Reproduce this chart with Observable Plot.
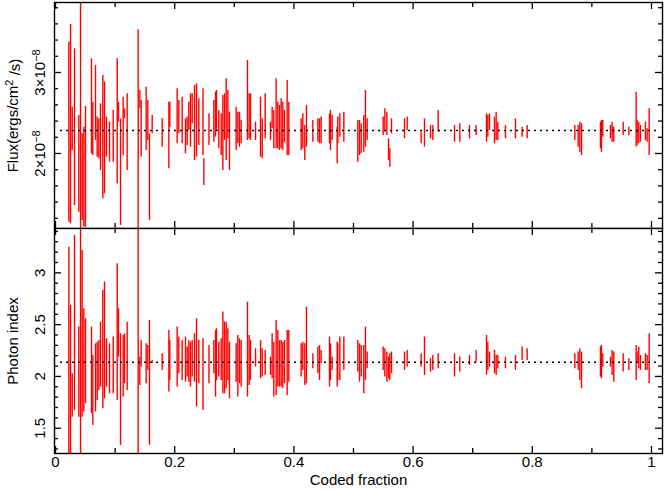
<!DOCTYPE html>
<html><head><meta charset="utf-8">
<script src="https://cdn.jsdelivr.net/npm/d3@7"></script>
<script src="https://cdn.jsdelivr.net/npm/@observablehq/plot@0.6"></script>
<style>
body{margin:0;background:#fff;}
#wrap{position:relative;width:665px;height:491px;}
#wrap svg{position:absolute;left:0;}
</style></head><body><div id="wrap"></div>
<script>
const codedFraction = [
0.0224,0.0252,0.0280,0.0319,0.0391,0.0420,0.0447,0.0475,0.0503,0.0604,
0.0626,0.0671,0.0699,0.0727,0.0755,0.0794,0.0822,0.0856,0.0906,0.0968,
0.1035,0.1057,0.1091,0.1135,0.1158,0.1202,0.1387,0.1415,0.1437,0.1521,
0.1549,0.1577,0.1622,0.1790,0.1902,0.1918,0.2041,0.2069,0.2125,0.2181,
0.2209,0.2237,0.2265,0.2293,0.2332,0.2366,0.2405,0.2475,0.2575,0.2657,
0.2685,0.2701,0.2740,0.2780,0.2808,0.2836,0.2864,0.2892,0.2919,0.3031,
0.3059,0.3087,0.3115,0.3221,0.3249,0.3272,0.3356,0.3440,0.3468,0.3518,
0.3607,0.3635,0.3663,0.3702,0.3730,0.3758,0.3786,0.3814,0.3842,0.3887,
0.3915,0.4122,0.4150,0.4183,0.4211,0.4318,0.4402,0.4430,0.4457,0.4597,
0.4614,0.4642,0.4726,0.4737,0.4771,0.4838,0.5073,0.5101,0.5129,0.5173,
0.5201,0.5229,0.5498,0.5526,0.5560,0.5588,0.5610,0.5638,0.5856,0.5901,
0.6135,0.6191,0.6292,0.6331,0.6421,0.6695,0.6784,0.6946,0.7058,0.7232,
0.7254,0.7282,0.7366,0.7394,0.7422,0.7550,0.7718,0.7830,0.7914,0.8714,
0.8770,0.8798,0.8826,0.9144,0.9161,0.9183,0.9312,0.9340,0.9368,0.9525,
0.9620,0.9743,0.9759,0.9787,0.9815,0.9899,0.9927,0.9961];
// Flux in units of 1e-8 ergs/cm^2/s (error bar low / high)
const fluxLo = [
1.152,1.132,2.037,1.358,1.276,0.9,1.173,1.09,1.09,1.996,
1.975,2.16,1.955,1.934,1.79,1.44,1.502,1.955,1.893,1.893,
1.626,2.387,1.111,1.975,2.428,1.79,0.9,2.551,1.955,2.037,
2.16,1.173,2.243,2.078,1.811,2.325,2.119,2.243,2.119,1.996,
2.099,2.284,2.078,2.366,1.914,1.955,2.099,1.975,2.099,2.140,
2.202,2.284,2.058,1.975,1.790,2.160,1.914,2.181,1.790,2.037,
2.119,2.078,2.119,2.160,2.181,2.160,2.160,1.955,1.934,2.181,
2.160,2.305,2.058,2.058,2.058,2.037,2.058,2.037,2.140,1.975,
1.975,2.037,2.058,1.914,2.078,2.140,2.140,2.119,2.119,2.119,
2.037,2.160,1.872,2.119,2.202,2.140,1.893,1.975,1.996,2.016,
2.078,2.160,2.222,2.263,2.222,1.914,1.831,2.243,2.181,2.284,
2.119,2.078,2.181,2.160,2.263,2.140,2.140,2.181,2.222,2.140,
2.202,2.284,2.119,2.160,2.160,2.181,2.181,2.202,2.181,2.160,
2.078,2.016,1.975,2.058,2.016,2.202,2.181,2.140,2.140,2.222,
2.222,2.078,2.099,2.119,2.140,2.160,2.140,1.975];
const fluxHi = [
3.374,3.593,2.572,3.292,2.469,4.0,2.243,2.325,2.58,3.169,
2.634,3.086,2.449,2.428,2.613,2.963,2.881,2.449,2.387,2.531,
3.169,2.634,2.428,2.695,2.551,2.737,3.527,2.778,2.654,2.819,
2.654,2.243,2.469,2.428,2.634,2.634,2.798,2.654,2.695,2.428,
2.449,2.634,2.737,2.737,2.840,2.860,2.675,2.798,2.490,2.654,
2.757,2.778,2.531,2.490,2.716,2.737,2.922,2.778,2.510,2.572,
2.510,2.510,2.407,3.148,2.737,2.737,2.387,2.695,2.428,2.737,
2.387,2.572,2.531,2.922,2.634,2.593,2.675,2.634,2.531,2.901,
2.634,2.428,2.490,2.346,2.593,2.407,2.428,2.428,2.449,2.490,
2.531,2.469,2.325,2.449,2.490,2.510,2.407,2.407,2.366,2.469,
2.778,2.428,2.449,2.551,2.510,2.181,2.058,2.428,2.428,2.449,
2.263,2.428,2.346,2.346,2.531,2.346,2.366,2.346,2.346,2.490,
2.469,2.490,2.449,2.510,2.387,2.346,2.428,2.325,2.346,2.346,
2.346,2.387,2.366,2.387,2.407,2.407,2.346,2.387,2.325,2.387,
2.325,2.757,2.407,2.387,2.346,2.387,2.305,2.551];
const fluxExtraX = [0.2489];
const fluxExtraLo = [1.605];
const fluxExtraHi = [1.934];
const indexLo = [
1.0,1.0,1.607,1.672,1.607,1.0,1.607,1.656,1.736,1.640,
1.527,1.656,1.768,1.865,1.897,1.688,1.784,1.897,1.833,1.833,
1.768,2.187,1.334,1.801,1.929,1.865,1.0,1.913,2.090,1.929,
2.058,1.334,2.122,2.058,1.849,1.961,1.897,2.026,1.961,1.945,
1.994,1.945,1.897,1.994,1.945,1.704,1.929,1.672,1.929,2.026,
1.801,1.961,1.994,1.961,1.833,1.833,1.881,1.961,1.784,1.945,
1.801,1.929,1.897,1.801,1.913,1.961,2.090,1.977,1.994,2.010,
2.010,1.977,1.801,1.817,1.897,1.897,1.897,1.881,1.929,1.817,
1.945,1.994,2.058,1.913,1.929,2.074,2.026,1.961,2.122,1.897,
1.961,2.058,1.897,1.961,1.961,2.058,2.042,1.945,1.994,1.833,
1.961,2.074,2.058,1.994,1.945,1.977,1.961,2.026,2.058,2.090,
2.090,2.010,2.042,2.058,2.074,1.994,2.042,2.106,2.138,2.010,
2.058,2.090,2.026,2.010,2.074,2.074,2.058,2.154,2.154,2.074,
2.058,1.961,1.881,1.994,1.977,2.090,2.090,2.010,1.945,2.042,
2.058,1.961,2.138,2.074,2.058,2.058,2.058,1.929];
const indexHi = [
3.248,2.685,2.026,3.361,2.476,3.6,3.216,2.653,2.557,2.476,
2.203,2.315,2.331,2.347,2.524,2.830,2.911,2.364,2.315,2.380,
3.088,2.653,2.412,2.396,2.412,2.524,3.6,2.187,2.347,2.315,
2.299,2.541,2.154,2.219,2.444,2.347,2.476,2.380,2.347,2.380,
2.283,2.347,2.331,2.347,2.412,2.557,2.347,2.364,2.299,2.347,
2.444,2.460,2.331,2.364,2.621,2.524,2.524,2.460,2.331,2.315,
2.396,2.364,2.347,2.717,2.396,2.347,2.267,2.347,2.267,2.251,
2.187,2.412,2.331,2.541,2.444,2.347,2.347,2.331,2.347,2.444,
2.444,2.315,2.331,2.315,2.669,2.219,2.283,2.299,2.251,2.380,
2.315,2.187,2.331,2.315,2.380,2.380,2.347,2.315,2.299,2.299,
2.476,2.235,2.283,2.267,2.235,2.187,2.219,2.235,2.235,2.251,
2.219,2.380,2.171,2.203,2.219,2.219,2.187,2.203,2.251,2.396,
2.331,2.235,2.251,2.203,2.203,2.187,2.203,2.283,2.267,2.219,
2.235,2.267,2.235,2.283,2.299,2.219,2.187,2.251,2.235,2.219,
2.171,2.299,2.235,2.283,2.203,2.219,2.203,2.412];
const fluxMean = 2.284;
const indexMean = 2.138;
const xMajorTicks = [0, 0.2, 0.4, 0.6, 0.8, 1];
const xMinorTicks = [0.1, 0.3, 0.5, 0.7, 0.9];
const xTickLabels = ["0", "0.2", "0.4", "0.6", "0.8", "1"];
const fluxMajorTicks = [2, 3];
const fluxTickLabels = ["2×10^-8", "3×10^-8"];
const fluxMinorTicks = [1.2,1.4,1.6,1.8,2.2,2.4,2.6,2.8,3.2,3.4,3.6,3.8];
const indexMajorTicks = [1.5, 2, 2.5, 3];
const indexTickLabels = ["1.5", "2", "2.5", "3"];
const indexMinorTicks = [1.3,1.4,1.6,1.7,1.8,1.9,2.1,2.2,2.3,2.4,2.6,2.7,2.8,2.9,3.1,3.2,3.3,3.4];
const fluxLabel = "Flux(ergs/cm^2 /s)";
const indexLabel = "Photon index";
const xLabel = "Coded fraction";

const W = 665, ML = 54, MR = 3;
const FW = W - ML - MR;
const xDomain = [-0.0017, 1.0185];
const FONT = "Liberation Sans, Arial, sans-serif";
const FS = 15;
const RED = "#ff0000";

function panel(o) {
  const FH = o.height - o.mt - o.mb;
  const rows = codedFraction.map((x, i) => ({x, lo: o.lo[i], hi: o.hi[i]}));
  const extra = (o.extraX || []).map((x, i) => ({x, lo: o.extraLo[i], hi: o.extraHi[i]}));
  const tk = {stroke: "#000", strokeWidth: 1.3};
  const marks = [
    Plot.ruleX(rows, {x: "x", y1: "lo", y2: "hi", stroke: RED, strokeWidth: 1.4, clip: true}),
    Plot.ruleX(extra, {x: "x", y1: "lo", y2: "hi", stroke: RED, strokeWidth: 1.4, clip: true}),
    Plot.ruleY([o.mean], {y: d => d, stroke: "#000", strokeWidth: 1.5, strokeDasharray: "2,4", insetLeft: 6, insetRight: 2}),
    Plot.frame({stroke: "#000", strokeWidth: 1.4}),
    Plot.tickY(o.major, {y: d => d, insetRight: FW - 7, ...tk}),
    Plot.tickY(o.major, {y: d => d, insetLeft: FW - 7, ...tk}),
    Plot.tickY(o.minor, {y: d => d, insetRight: FW - 4, ...tk}),
    Plot.tickY(o.minor, {y: d => d, insetLeft: FW - 4, ...tk}),
    Plot.tickX(xMajorTicks, {x: d => d, insetTop: FH - 7, ...tk}),
    Plot.tickX(xMajorTicks, {x: d => d, insetBottom: FH - 7, ...tk}),
    Plot.tickX(xMinorTicks, {x: d => d, insetTop: FH - 5, ...tk}),
    Plot.tickX(xMinorTicks, {x: d => d, insetBottom: FH - 5, ...tk}),
    Plot.text(o.major, {y: d => d, text: (d, i) => o.labels[i], frameAnchor: "left", dx: -14, rotate: -90, textAnchor: "middle", fontSize: FS, fill: "#000"}),
    Plot.text([o.ylabel], {frameAnchor: "left", dx: -41, rotate: -90, textAnchor: "middle", fontSize: FS, fill: "#000"})
  ];
  if (o.showX) {
    marks.push(Plot.text(xMajorTicks, {x: d => d, text: (d, i) => xTickLabels[i], frameAnchor: "bottom", dy: 13, textAnchor: "middle", fontSize: FS, fill: "#000"}));
    marks.push(Plot.text([xLabel], {frameAnchor: "bottom", dy: 31, textAnchor: "middle", fontSize: FS, fill: "#000"}));
  }
  const svg = Plot.plot({
    width: W, height: o.height,
    marginLeft: ML, marginRight: MR, marginTop: o.mt, marginBottom: o.mb,
    x: {domain: xDomain, axis: null},
    y: {domain: o.yDomain, axis: null},
    style: {background: "transparent", fontFamily: FONT, fontSize: FS + "px", color: "#000"},
    marks
  });
  // turn "^x" markers into real superscripts
  svg.querySelectorAll("text").forEach(t => {
    const s = t.textContent;
    const m = s.match(/^(.*?)\^(\S+)(.*)$/);
    if (!m) return;
    t.textContent = "";
    const ns = "http://www.w3.org/2000/svg";
    const a = document.createElementNS(ns, "tspan"); a.textContent = m[1];
    const b = document.createElementNS(ns, "tspan"); b.textContent = m[2].replace("-", "\u2212");
    b.setAttribute("dy", "-0.5em"); b.setAttribute("font-size", "11px");
    t.appendChild(a); t.appendChild(b);
    if (m[3]) {
      const c = document.createElementNS(ns, "tspan"); c.textContent = m[3];
      c.setAttribute("dy", "0.5em");
      t.appendChild(c);
    }
  });
  svg.style.top = o.top + "px";
  return svg;
}

const wrap = document.getElementById("wrap");
wrap.appendChild(panel({
  lo: fluxLo, hi: fluxHi, extraX: fluxExtraX, extraLo: fluxExtraLo, extraHi: fluxExtraHi,
  mean: fluxMean, yDomain: [1.074, 3.864], major: fluxMajorTicks, minor: fluxMinorTicks,
  labels: fluxTickLabels, ylabel: fluxLabel, top: 0, height: 229, mt: 2, mb: 1, showX: false
}));
wrap.appendChild(panel({
  lo: indexLo, hi: indexHi, mean: indexMean, yDomain: [1.256, 3.428],
  major: indexMajorTicks, minor: indexMinorTicks, labels: indexTickLabels,
  ylabel: indexLabel, top: 226, height: 265, mt: 2, mb: 38, showX: true
}));
</script></body></html>
